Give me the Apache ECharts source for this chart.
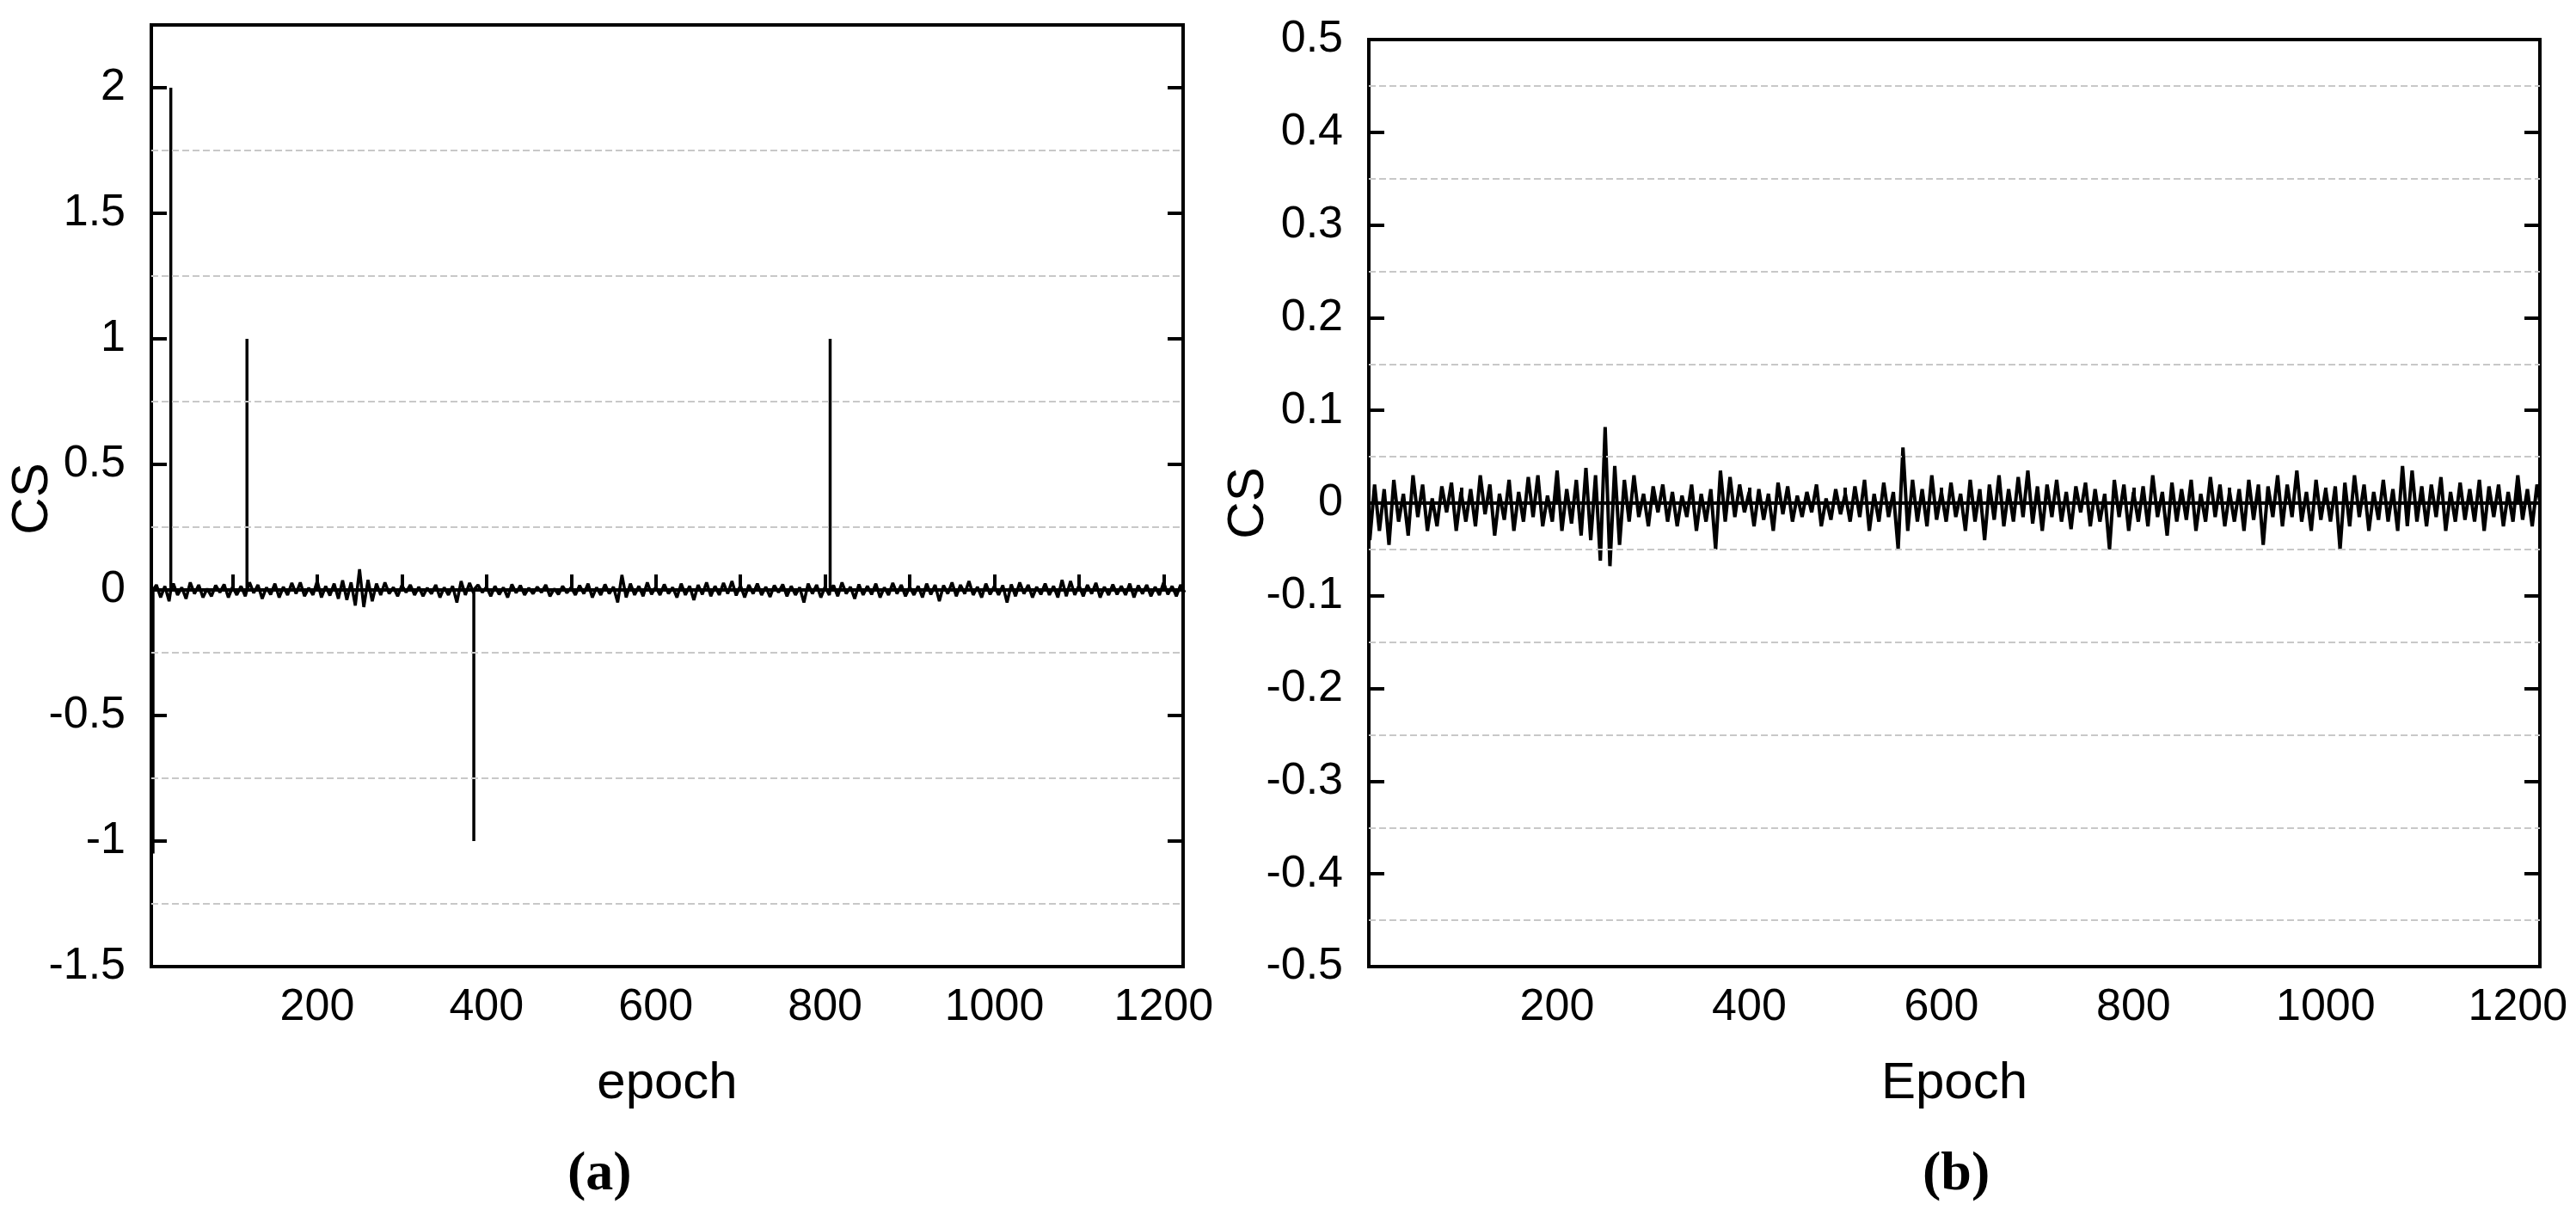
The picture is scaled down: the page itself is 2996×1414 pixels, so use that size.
<!DOCTYPE html>
<html>
<head>
<meta charset="utf-8">
<script src="https://cdn.jsdelivr.net/npm/echarts@6/dist/echarts.min.js"></script>
<style>html,body{margin:0;background:#fff}#c{width:2996px;height:1414px}</style>
</head>
<body>
<div id="c"></div>
<script>
// noise, one value every 5 epochs starting at epoch 5
var epochStart = 5, epochStep = 5;
var cs = [
  -0.04, 0.02, -0.03, 0.015, -0.045, 0.025, -0.02, 0.01, -0.035, 0.03,
  -0.015, 0.02, -0.03, 0.005, -0.025, 0.018, -0.01, 0.022, -0.03, 0.012,
  -0.02, 0.015, -0.025, 0.03, -0.012, 0.02, -0.035, 0.01, -0.018, 0.025,
  -0.03, 0.012, -0.02, 0.028, -0.015, 0.03, -0.025, 0.008, -0.02, 0.035,
  -0.03, 0.015, -0.022, 0.025, -0.035, 0.038, -0.04, 0.03, -0.062, 0.082,
  -0.068, 0.04, -0.045, 0.025, -0.02, 0.03, -0.015, 0.01, -0.025, 0.018,
  -0.01, 0.02, -0.02, 0.012, -0.025, 0.008, -0.015, 0.02, -0.03, 0.01,
  -0.02, 0.015, -0.05, 0.035, -0.02, 0.028, -0.015, 0.02, -0.01, 0.012,
  -0.025, 0.015, -0.018, 0.01, -0.03, 0.022, -0.012, 0.018, -0.02, 0.008,
  -0.015, 0.012, -0.01, 0.02, -0.025, 0.005, -0.018, 0.015, -0.012, 0.01,
  -0.02, 0.018, -0.015, 0.025, -0.03, 0.01, -0.02, 0.022, -0.015, 0.012,
  -0.05, 0.06, -0.03, 0.025, -0.02, 0.015, -0.025, 0.03, -0.018, 0.012,
  -0.02, 0.022, -0.015, 0.01, -0.03, 0.025, -0.02, 0.015, -0.04, 0.02,
  -0.018, 0.03, -0.025, 0.015, -0.02, 0.028, -0.015, 0.035, -0.022, 0.018,
  -0.03, 0.02, -0.015, 0.025, -0.02, 0.012, -0.028, 0.018, -0.01, 0.022,
  -0.025, 0.015, -0.02, 0.01, -0.05, 0.025, -0.015, 0.02, -0.03, 0.012,
  -0.02, 0.018, -0.025, 0.03, -0.015, 0.012, -0.035, 0.022, -0.02, 0.015,
  -0.018, 0.025, -0.03, 0.01, -0.02, 0.028, -0.015, 0.02, -0.025, 0.012,
  -0.02, 0.015, -0.03, 0.025, -0.018, 0.02, -0.045, 0.018, -0.015, 0.03,
  -0.025, 0.02, -0.015, 0.035, -0.02, 0.012, -0.03, 0.025, -0.018, 0.015,
  -0.02, 0.018, -0.05, 0.022, -0.025, 0.03, -0.015, 0.02, -0.03, 0.012,
  -0.018, 0.025, -0.02, 0.015, -0.03, 0.04, -0.025, 0.035, -0.02, 0.018,
  -0.025, 0.02, -0.015, 0.028, -0.03, 0.012, -0.02, 0.022, -0.018, 0.015,
  -0.02, 0.025, -0.03, 0.018, -0.015, 0.02, -0.025, 0.012, -0.02, 0.03,
  -0.018, 0.015, -0.025, 0.02, -0.01
];
// spikes only present in panel (a): [epoch, CS]
var spikeEpochs = [6, 27, 117, 385, 806];
var spikeValues = [-1.05, 2, 1, -1, 1];

var xLabels = [200, 400, 600, 800, 1000, 1200];
var xTicks = [100, 200, 300, 400, 500, 600, 700, 800, 900, 1000, 1100, 1200];
var yTicksA = [-1.5, -1, -0.5, 0, 0.5, 1, 1.5, 2];
var gridA = [-1.25, -0.75, -0.25, 0.25, 0.75, 1.25, 1.75];
var gridB = [-0.45, -0.35, -0.25, -0.15, -0.05, 0.05, 0.15, 0.25, 0.35, 0.45];

var dataB = cs.map(function (v, i) { return [epochStart + i * epochStep, v]; });
var dataA = dataB.slice();
// each spike is a vertical stroke from the baseline at its epoch
spikeEpochs.forEach(function (e, i) { dataA.push([e, 0], [e + 0.001, spikeValues[i]], [e + 0.002, 0]); });
dataA.sort(function (p, q) { return p[0] - q[0]; });

var font = 'Liberation Sans';
function xAxis(idx, name) {
  return {
    type: 'value', gridIndex: idx, min: 4, max: 1223,
    name: name, nameLocation: 'middle', nameGap: 106,
    nameTextStyle: { fontFamily: font, fontSize: 60, color: '#000' },
    axisLine: { lineStyle: { color: '#000', width: 4 } },
    axisTick: { inside: true, length: 18, customValues: xTicks, lineStyle: { width: 4, color: '#000' } },
    axisLabel: { customValues: xLabels, fontFamily: font, fontSize: 52, color: '#000', margin: 22,
      formatter: function (v) { return String(v); } },
    splitLine: { show: false }
  };
}
function yAxis(idx, min, max, interval, showLabels, pos) {
  return {
    type: 'value', gridIndex: idx, min: min, max: max, interval: interval, position: pos,
    axisLine: { show: true, onZero: false, lineStyle: { color: '#000', width: 4 } },
    axisTick: { inside: true, length: 18, lineStyle: { width: 4, color: '#000' } },
    axisLabel: { show: showLabels, fontFamily: font, fontSize: 52, color: '#000', margin: 30 },
    splitLine: { show: false }
  };
}
function gridLines(vals) {
  return {
    silent: true, symbol: 'none', label: { show: false },
    lineStyle: { type: 'dashed', color: '#c8c8c8', width: 2 },
    data: vals.map(function (v) { return { yAxis: v }; })
  };
}
function yName(x, y) {
  return { type: 'text', x: x, y: y, rotation: Math.PI / 2,
    style: { text: 'CS', fontFamily: font, fontSize: 60, fill: '#000', align: 'center', verticalAlign: 'middle' } };
}

var yA = yAxis(0, -1.5, 2.25, 0.5, true, 'left');
yA.axisTick.customValues = yTicksA;
yA.axisLabel.customValues = yTicksA;
var yA2 = yAxis(0, -1.5, 2.25, 0.5, false, 'right');
yA2.axisTick.customValues = yTicksA;

var option = {
  animation: false,
  grid: [
    { left: 176, top: 29, width: 1200, height: 1095, show: true, borderColor: '#000', borderWidth: 4, outerBoundsMode: 'none' },
    { left: 1592, top: 46, width: 1362, height: 1078, show: true, borderColor: '#000', borderWidth: 4, outerBoundsMode: 'none' }
  ],
  xAxis: [xAxis(0, 'epoch'), xAxis(1, 'Epoch')],
  yAxis: [yA, yA2, yAxis(1, -0.5, 0.5, 0.1, true, 'left'), yAxis(1, -0.5, 0.5, 0.1, false, 'right')],
  series: [
    { type: 'line', xAxisIndex: 0, yAxisIndex: 0, data: dataA, symbol: 'none',
      lineStyle: { color: '#000', width: 3.5 }, markLine: gridLines(gridA), z: 3 },
    { type: 'line', xAxisIndex: 1, yAxisIndex: 2, data: dataB, symbol: 'none',
      lineStyle: { color: '#000', width: 4 }, markLine: gridLines(gridB), z: 3 }
  ],
  graphic: [
    yName(38, 580),
    yName(1452, 585),
    { type: 'text', left: 660, top: 1334, style: { text: '(a)', fontFamily: 'Liberation Serif', fontSize: 64, fontWeight: 'bold', fill: '#000' } },
    { type: 'text', left: 2236, top: 1334, style: { text: '(b)', fontFamily: 'Liberation Serif', fontSize: 64, fontWeight: 'bold', fill: '#000' } }
  ]
};
echarts.init(document.getElementById('c')).setOption(option);
</script>
</body>
</html>
